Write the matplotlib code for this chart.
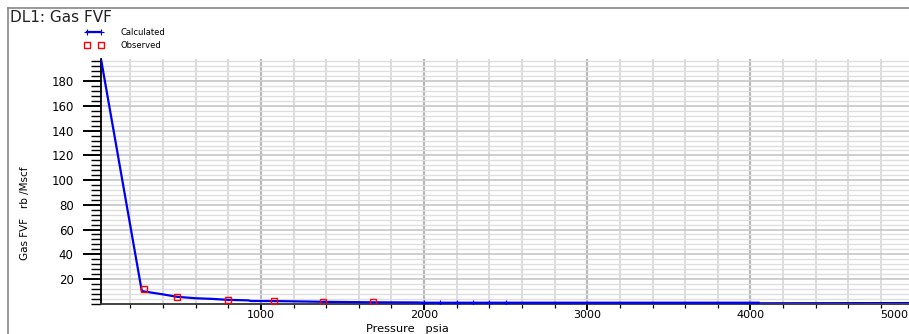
import matplotlib
matplotlib.use("Agg")
import matplotlib.pyplot as plt
import matplotlib.transforms as mtransforms
from matplotlib.lines import Line2D
from matplotlib.legend_handler import HandlerLine2D
from matplotlib.ticker import MultipleLocator

# calculated Bg curve (psia, rb/Mscf)
calc_p = [20, 270, 397, 485, 600, 700, 800, 920, 940, 1100, 1400, 1700, 1960,
          2000, 2100, 2200, 2300, 2400, 2500, 4050]
calc_bg = [198, 10.2, 7.6, 5.6, 4.4, 3.9, 3.1, 2.7, 2.2, 2.1, 1.5, 1.1, 1.0,
           0.8, 0.8, 0.8, 0.8, 0.8, 0.8, 0.8]
tail_p = [4050, 5100]
tail_bg = [0.8, 1.0]

# observed lab points
obs_p = [284, 485, 796, 1082, 1382, 1689]
obs_bg = [11.5, 5.7, 3.0, 2.2, 1.4, 1.1]

x_major = [1000, 2000, 3000, 4000, 5000]
y_major = [20, 40, 60, 80, 100, 120, 140, 160, 180]

BLUE = "#0000f0"
W, H = 909, 334

fig = plt.figure(figsize=(W / 100, H / 100), dpi=100)
ax = fig.add_axes([101 / W, 1 - 303.7 / H, 829 / W, 244.7 / H])

# outer frame (only top and left visible in the crop)
fig.add_artist(Line2D([8 / W, 1.0], [1 - 8 / H, 1 - 8 / H], transform=fig.transFigure,
                      color="#888888", lw=1.2))
fig.add_artist(Line2D([8 / W, 8 / W], [0, 1 - 8 / H], transform=fig.transFigure,
                      color="#888888", lw=1.2))

# only the flat stretch past 2000 psia shows its + marks
marked = [i for i, p in enumerate(calc_p) if 2000 <= p <= 2500]
ax.plot(calc_p, calc_bg, color=BLUE, lw=1.6, marker="+", ms=4, mew=0.8,
        markevery=marked, label="Calculated", zorder=3)
ax.plot(tail_p, tail_bg, color=BLUE, lw=0.8, zorder=3)
ax.plot(obs_p, obs_bg, ls="none", marker="s", ms=4.2, mfc="none", mec="red",
        mew=1.0, label="Observed", zorder=4)

ax.set_xlim(20, 5100)
ax.set_ylim(0, 198)
ax.set_xticks(x_major)
ax.set_yticks(y_major)
ax.xaxis.set_minor_locator(MultipleLocator(200))
ax.yaxis.set_minor_locator(MultipleLocator(4))

ax.xaxis.grid(True, which="minor", color="#d6d6d6", lw=1.2)
ax.xaxis.grid(True, which="major", color="#b8b8b8", lw=1.6)
ax.yaxis.grid(True, which="minor", color="#dedede", lw=1.0)
ax.yaxis.grid(True, which="major", color="#cacaca", lw=1.3)
ax.set_axisbelow(True)

for s in ("top", "right"):
    ax.spines[s].set_visible(False)
ax.spines["left"].set_linewidth(1.3)
ax.spines["bottom"].set_linewidth(1.3)
ax.spines["bottom"].set_color("#333333")

ax.tick_params(axis="y", which="major", direction="out", length=12.7, width=1.4,
               pad=7, labelsize=8.5)
ax.tick_params(axis="y", which="minor", direction="out", length=7.5, width=1.0)
ax.tick_params(axis="x", which="major", direction="out", length=4.5, width=1.4,
               pad=0, labelsize=8)
ax.tick_params(axis="x", which="minor", direction="out", length=3, width=0.9)

ax.set_xticklabels([str(v) for v in x_major])
# last label sits against the right edge, like the source software does
last = ax.get_xticklabels()[-1]
last.set_horizontalalignment("right")
last.set_transform(last.get_transform()
                   + mtransforms.ScaledTranslation(-5 / 100, 0, fig.dpi_scale_trans))

fig.text(10 / W, 1 - 18 / H, "DL1: Gas FVF", fontsize=11, color="#222222",
         ha="left", va="center")
fig.text(25 / W, 1 - 213 / H, "Gas FVF   rb /Mscf", fontsize=7.5, rotation=90,
         ha="center", va="center")
fig.text(407 / W, 1 - 328.5 / H, "Pressure   psia", fontsize=8.2, ha="center",
         va="center")

ax.legend(loc="upper left", bbox_to_anchor=(74 / W, 1 - 28 / H),
          bbox_transform=fig.transFigure, frameon=False, fontsize=6,
          handlelength=4.7, handletextpad=0.85, labelspacing=0.45,
          borderpad=0, borderaxespad=0, numpoints=2,
          handler_map={Line2D: HandlerLine2D(marker_pad=1.5)})

fig.savefig("out.png", dpi=100)
